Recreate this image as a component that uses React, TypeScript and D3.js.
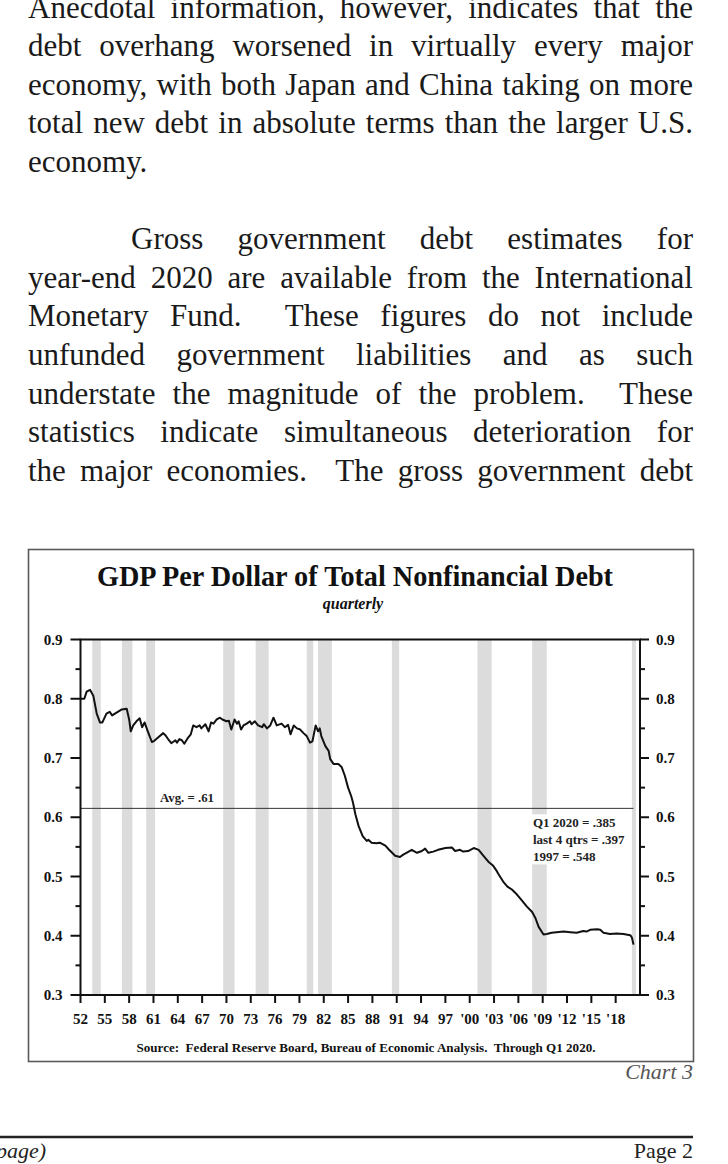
import React from 'react';
import * as d3 from 'd3';

const W = 728;
const H = 1164;

// ---- Data ----
const dates = [
  1952.0, 1952.47, 1952.76, 1953.17, 1953.58, 1954.0, 1954.4, 1954.7, 1955.2, 1955.6, 1955.9, 1956.5,
  1957.1, 1957.7, 1958.0, 1958.2, 1958.5, 1958.9, 1959.3, 1959.6, 1959.9, 1960.3, 1960.8, 1961.1,
  1961.6, 1962.2, 1962.5, 1962.9, 1963.2, 1963.7, 1963.9, 1964.2, 1964.5, 1964.8, 1965.2, 1965.6,
  1965.9, 1966.3, 1966.7, 1966.9, 1967.4, 1967.8, 1968.1, 1968.4, 1968.8, 1969.2, 1969.5, 1970.0,
  1970.3, 1970.6, 1971.0, 1971.3, 1971.5, 1971.8, 1972.1, 1972.5, 1972.9, 1973.1, 1973.5, 1973.9,
  1974.4, 1974.6, 1975.0, 1975.4, 1975.8, 1976.2, 1976.8, 1977.2, 1977.6, 1977.9, 1978.3, 1978.7,
  1979.1, 1979.5, 1979.9, 1980.3, 1980.6, 1981.0, 1981.3, 1981.5, 1981.7, 1982.2, 1982.6, 1982.8,
  1983.2, 1983.8, 1984.2, 1984.6, 1985.0, 1985.4, 1985.6, 1985.9, 1986.3, 1986.8, 1987.3, 1987.5,
  1987.9, 1988.5, 1988.9, 1989.6, 1990.0, 1990.8, 1991.4, 1991.8, 1992.2, 1992.85, 1993.5, 1994.1,
  1994.5, 1994.9, 1995.5, 1996.1, 1997.0, 1997.8, 1998.2, 1998.8, 1999.2, 1999.8, 2000.5, 2001.1,
  2001.7, 2002.3, 2002.9, 2003.3, 2003.5, 2004.2, 2004.65, 2005.2, 2005.8, 2006.4, 2007.0, 2007.7,
  2008.1, 2008.5, 2009.1, 2009.5, 2010.1, 2010.7, 2011.6, 2012.4, 2013.2, 2014.0, 2014.4, 2014.85,
  2015.7, 2016.1, 2016.5, 2017.3, 2018.1, 2018.96, 2019.8, 2020.0, 2020.2,
];
const ratio = [
  0.800, 0.800, 0.812, 0.815, 0.805, 0.775, 0.760, 0.760, 0.775, 0.778, 0.772, 0.777,
  0.782, 0.783, 0.765, 0.745, 0.755, 0.762, 0.767, 0.752, 0.760, 0.745, 0.727, 0.729,
  0.735, 0.742, 0.738, 0.730, 0.725, 0.730, 0.726, 0.732, 0.730, 0.724, 0.733, 0.740,
  0.755, 0.752, 0.755, 0.750, 0.757, 0.745, 0.760, 0.758, 0.765, 0.768, 0.765, 0.762,
  0.763, 0.748, 0.765, 0.758, 0.762, 0.748, 0.755, 0.758, 0.762, 0.757, 0.762, 0.755,
  0.752, 0.757, 0.750, 0.755, 0.768, 0.755, 0.758, 0.752, 0.756, 0.740, 0.755, 0.750,
  0.748, 0.742, 0.737, 0.726, 0.728, 0.755, 0.745, 0.750, 0.737, 0.720, 0.712, 0.698,
  0.690, 0.690, 0.685, 0.670, 0.650, 0.635, 0.625, 0.605, 0.585, 0.568, 0.560, 0.562,
  0.557, 0.556, 0.557, 0.552, 0.546, 0.535, 0.533, 0.537, 0.540, 0.545, 0.540, 0.543,
  0.547, 0.540, 0.542, 0.545, 0.548, 0.549, 0.543, 0.545, 0.542, 0.543, 0.548, 0.545,
  0.535, 0.525, 0.518, 0.510, 0.505, 0.490, 0.483, 0.478, 0.470, 0.460, 0.450, 0.440,
  0.430, 0.415, 0.402, 0.403, 0.405, 0.406, 0.407, 0.406, 0.405, 0.408, 0.407, 0.410,
  0.411, 0.410, 0.405, 0.403, 0.404, 0.403, 0.401, 0.397, 0.385,
];

const recessionStart = [1953.45, 1957.1, 1960.1, 1969.6, 1973.6, 1979.9, 1981.3, 1990.4, 2000.95, 2007.7, 2020.0];
const recessionEnd = [1954.5, 1958.4, 1961.2, 1971.0, 1975.2, 1980.7, 1983.0, 1991.3, 2002.7, 2009.5, 2020.5];

const xTickYears = [1952, 1955, 1958, 1961, 1964, 1967, 1970, 1973, 1976, 1979, 1982, 1985, 1988, 1991, 1994, 1997, 2000, 2003, 2006, 2009, 2012, 2015, 2018];
const xTickLabels = ['52', '55', '58', '61', '64', '67', '70', '73', '76', '79', '82', '85', '88', '91', '94', '97', "'00", "'03", "'06", "'09", "'12", "'15", "'18"];
const yMajorTicks = [0.3, 0.4, 0.5, 0.6, 0.7, 0.8, 0.9];
const yMinorTicks = [0.35, 0.45, 0.55, 0.65, 0.75, 0.85];

const avgValue = 0.615;
const avgLabel = 'Avg. = .61';
const noteLines = ['Q1 2020 = .385', 'last 4 qtrs = .397', '1997 = .548'];

const chartTitle = 'GDP Per Dollar of Total Nonfinancial Debt';
const chartSubtitle = 'quarterly';
const sourceText = 'Source:  Federal Reserve Board, Bureau of Economic Analysis.  Through Q1 2020.';

const bodyLines = [
  { text: 'Anecdotal information, however, indicates that the', justify: true, indent: 0 },
  { text: 'debt overhang worsened in virtually every major', justify: true, indent: 0 },
  { text: 'economy, with both Japan and China taking on more', justify: true, indent: 0 },
  { text: 'total new debt in absolute terms than the larger U.S.', justify: true, indent: 0 },
  { text: 'economy.', justify: false, indent: 0 },
  null,
  { text: 'Gross government debt estimates for', justify: true, indent: 103 },
  { text: 'year-end 2020 are available from the International', justify: true, indent: 0 },
  { text: 'Monetary Fund.  These figures do not include', justify: true, indent: 0 },
  { text: 'unfunded government liabilities and as such', justify: true, indent: 0 },
  { text: 'understate the magnitude of the problem.  These', justify: true, indent: 0 },
  { text: 'statistics indicate simultaneous deterioration for', justify: true, indent: 0 },
  { text: 'the major economies.  The gross government debt', justify: true, indent: 0 },
];

// ---- Layout ----
const TEXT_LEFT = 28;
const TEXT_RIGHT = 693;
const BODY_FS = 31;
const BODY_FONT = `${BODY_FS}px "Liberation Serif"`;
const LINE_H = 38.6;
const BASE0 = 172 - 4 * LINE_H;

const PLOT = { left: 80.5, right: 640, top: 639.5, bottom: 995 };

let measureCtx: CanvasRenderingContext2D | null = null;
function measure(text: string, font: string): number {
  if (!measureCtx) {
    const c = document.createElement('canvas');
    measureCtx = c.getContext('2d');
  }
  if (!measureCtx) return text.length * 14;
  measureCtx.font = font;
  return measureCtx.measureText(text).width;
}

function JustifiedLine({ text, y, indent, justify }: { text: string; y: number; indent: number; justify: boolean }) {
  const left = TEXT_LEFT + indent;
  if (!justify) {
    return (
      <text x={left} y={y} fontFamily='"Liberation Serif", serif' fontSize={BODY_FS} fill="#1a1a1a">
        {text}
      </text>
    );
  }
  const words = text.split(' ');
  const widths = words.map((w) => measure(w, BODY_FONT));
  const total = widths.reduce((a, b) => a + b, 0);
  const gap = (TEXT_RIGHT - left - total) / (words.length - 1);
  let x = left;
  const xs: number[] = [];
  words.forEach((w, i) => {
    xs.push(x);
    x += widths[i] + gap;
  });
  return (
    <g fontFamily='"Liberation Serif", serif' fontSize={BODY_FS} fill="#1a1a1a">
      {words.map((w, i) =>
        w ? (
          <text key={i} x={xs[i]} y={y}>
            {w}
          </text>
        ) : null
      )}
    </g>
  );
}

export default function App() {
  const x = d3.scaleLinear().domain([1952, 2021]).range([PLOT.left, PLOT.right]);
  const y = d3.scaleLinear().domain([0.3, 0.9]).range([PLOT.bottom, PLOT.top]);

  const series: [number, number][] = dates.map((d, i) => [d, ratio[i]]);
  const linePath = d3
    .line<[number, number]>()
    .x((d) => x(d[0]))
    .y((d) => y(d[1]))(series) as string;

  const serif = '"Liberation Serif", "Times New Roman", serif';
  const noteX = x(2007.8);
  const noteY0 = 827;

  return (
    <svg
      width={W}
      height={H}
      viewBox={`0 0 ${W} ${H}`}
      style={{ position: 'absolute', left: 0, top: 0, display: 'block', background: '#fff' }}
    >
      <rect x={0} y={0} width={W} height={H} fill="#fff" />

      {/* Body text */}
      {bodyLines.map((l, i) =>
        l ? <JustifiedLine key={i} text={l.text} y={BASE0 + i * LINE_H} indent={l.indent} justify={l.justify} /> : null
      )}

      {/* Chart frame */}
      <rect x={28.5} y={549.5} width={665} height={512} fill="none" stroke="#5a5a5a" strokeWidth={1.6} />

      <text
        x={355}
        y={586}
        textAnchor="middle"
        fontFamily={serif}
        fontWeight="bold"
        fontSize={30}
        textLength={516}
        lengthAdjust="spacingAndGlyphs"
        fill="#111"
      >
        {chartTitle}
      </text>
      <text x={353} y={609} textAnchor="middle" fontFamily={serif} fontWeight="bold" fontStyle="italic" fontSize={16} fill="#111">
        {chartSubtitle}
      </text>

      {/* Recession bands */}
      {recessionStart.map((s, i) => {
        const x0 = x(s);
        const x1 = Math.min(x(recessionEnd[i]), PLOT.right);
        return <rect key={i} x={x0} y={PLOT.top} width={x1 - x0} height={PLOT.bottom - PLOT.top} fill="#dcdcdc" />;
      })}

      {/* Average line */}
      <line x1={PLOT.left} x2={x(2020.2)} y1={y(avgValue)} y2={y(avgValue)} stroke="#333" strokeWidth={1} />
      <text
        x={187}
        y={y(avgValue) - 6}
        textAnchor="middle"
        fontFamily={serif}
        fontWeight="bold"
        fontSize={12.5}
        textLength={54}
        lengthAdjust="spacingAndGlyphs"
        fill="#222"
      >
        {avgLabel}
      </text>

      {/* Notes with white backing */}
      <rect x={noteX - 2} y={y(avgValue) + 6} width={x(2020.2) - noteX} height={50} fill="#fff" />
      {noteLines.map((t, i) => (
        <text key={i} x={noteX} y={noteY0 + i * 17} fontFamily={serif} fontWeight="bold" fontSize={13} fill="#222">
          {t}
        </text>
      ))}

      {/* Data line */}
      <path d={linePath} fill="none" stroke="#111" strokeWidth={2} strokeLinejoin="round" />

      {/* Plot box */}
      <rect x={PLOT.left} y={PLOT.top} width={PLOT.right - PLOT.left} height={PLOT.bottom - PLOT.top} fill="none" stroke="#111" strokeWidth={2} />

      {/* Y ticks left & right */}
      {yMajorTicks.map((t) => (
        <g key={t}>
          <line x1={PLOT.left - 10} x2={PLOT.left} y1={y(t)} y2={y(t)} stroke="#111" strokeWidth={2} />
          <line x1={PLOT.right} x2={PLOT.right + 9} y1={y(t)} y2={y(t)} stroke="#111" strokeWidth={2} />
          <text x={PLOT.left - 18} y={y(t) + 5} textAnchor="end" fontFamily={serif} fontWeight="bold" fontSize={15} fill="#111">
            {t.toFixed(1)}
          </text>
          <text x={PLOT.right + 16} y={y(t) + 5} textAnchor="start" fontFamily={serif} fontWeight="bold" fontSize={15} fill="#111">
            {t.toFixed(1)}
          </text>
        </g>
      ))}
      {yMinorTicks.map((t) => (
        <g key={t}>
          <line x1={PLOT.left - 5} x2={PLOT.left} y1={y(t)} y2={y(t)} stroke="#111" strokeWidth={2} />
          <line x1={PLOT.right} x2={PLOT.right + 5} y1={y(t)} y2={y(t)} stroke="#111" strokeWidth={2} />
        </g>
      ))}

      {/* X ticks */}
      {xTickYears.map((yr, i) => (
        <g key={yr}>
          <line x1={x(yr)} x2={x(yr)} y1={PLOT.bottom} y2={PLOT.bottom + 8} stroke="#111" strokeWidth={2} />
          <text x={x(yr)} y={PLOT.bottom + 29} textAnchor="middle" fontFamily={serif} fontWeight="bold" fontSize={15} fill="#111">
            {xTickLabels[i]}
          </text>
        </g>
      ))}

      <text
        x={366}
        y={1052}
        textAnchor="middle"
        fontFamily={serif}
        fontWeight="bold"
        fontSize={12.5}
        textLength={459}
        lengthAdjust="spacingAndGlyphs"
        fill="#111"
        style={{ whiteSpace: 'pre' }}
      >
        {sourceText}
      </text>

      <text x={693} y={1079} textAnchor="end" fontFamily={serif} fontStyle="italic" fontSize={22} fill="#555">
        Chart 3
      </text>

      {/* Footer */}
      <line x1={0} x2={693} y1={1137} y2={1137} stroke="#222" strokeWidth={2.5} />
      <text x={-4} y={1158} fontFamily={serif} fontStyle="italic" fontSize={22} fill="#222">
        page)
      </text>
      <text x={693} y={1158} textAnchor="end" fontFamily={serif} fontSize={22} fill="#222">
        Page 2
      </text>
    </svg>
  );
}
